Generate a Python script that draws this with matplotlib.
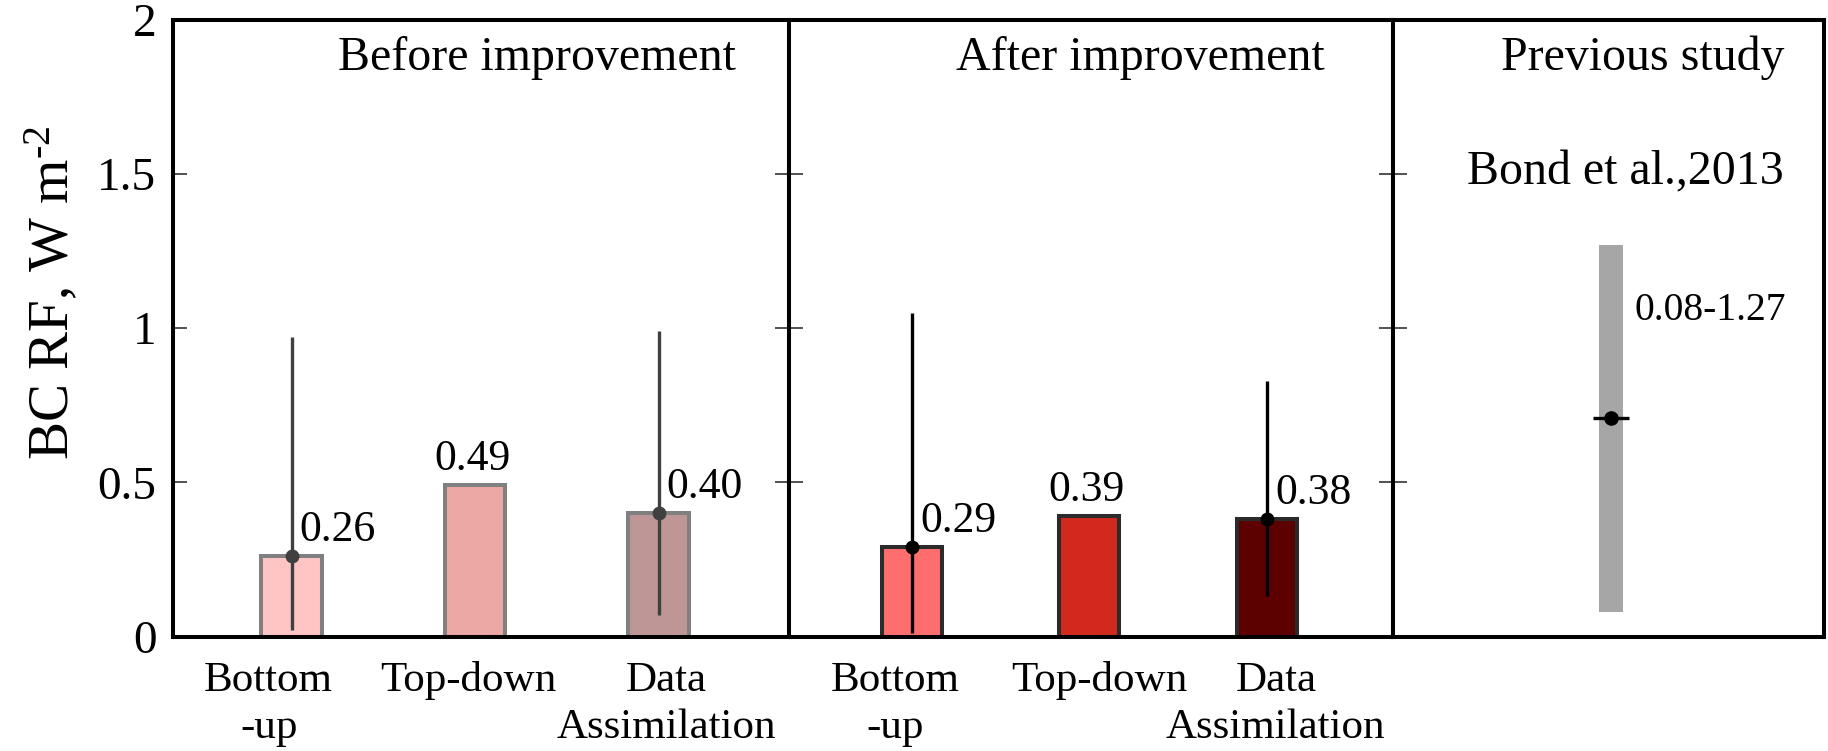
import matplotlib
matplotlib.use('Agg')
import matplotlib.pyplot as plt
import matplotlib.transforms as mtransforms

plt.rcParams['font.family'] = ['Liberation Serif', 'DejaVu Serif']
plt.rcParams['mathtext.fontset'] = 'custom'
plt.rcParams['mathtext.rm'] = 'Liberation Serif'
plt.rcParams['mathtext.it'] = 'Liberation Serif:italic'

# ---------------- data ----------------
categories = ['Bottom\n-up', 'Top-down', 'Data\nAssimilation']
panel_titles = ['Before improvement', 'After improvement', 'Previous study']

before_values = [0.26, 0.49, 0.40]
before_labels = ['0.26', '0.49', '0.40']
before_err_low = [0.02, None, 0.07]
before_err_high = [0.97, None, 0.99]
before_colors = ['#FFC4C4', '#ECA8A4', '#BE9696']

after_values = [0.29, 0.39, 0.38]
after_labels = ['0.29', '0.39', '0.38']
after_err_low = [0.01, None, 0.13]
after_err_high = [1.05, None, 0.83]
after_colors = ['#FF6E6E', '#D2291F', '#5C0000']

prev_study = 'Bond et al.,2013'
prev_low = 0.08
prev_high = 1.27
prev_mid = 0.71
prev_label = '0.08-1.27'

yticks = [0, 0.5, 1, 1.5, 2]
ytick_labels = ['0', '0.5', '1', '1.5', '2']

# ---------------- figure ----------------
W, H = 1828, 751
fig = plt.figure(figsize=(W / 100, H / 100), dpi=100)
bottom = (H - 636.5) / H
height = 616.5 / H
ax1 = fig.add_axes([173 / W, bottom, 616 / W, height])
ax2 = fig.add_axes([789 / W, bottom, 604 / W, height])
ax3 = fig.add_axes([1393 / W, bottom, 431 / W, height])

spine_lw = 2.9


def style_axes(ax, left_labels, right_ticks):
    ax.set_ylim(0, 2)
    ax.set_yticks(yticks)
    ax.set_yticklabels(ytick_labels)
    for sp in ax.spines.values():
        sp.set_linewidth(spine_lw)
        sp.set_color('black')
    ax.tick_params(axis='y', direction='in', length=10, width=1.1,
                   left=True, right=right_ticks, labelleft=left_labels,
                   labelsize=34, pad=12, color='#222222')
    ax.set_xticks([])


def draw_panel(ax, values, labels, lows, highs, colors, edge, err_color,
               xlim, width, label_shift):
    xs = list(range(len(values)))
    ax.bar(xs, values, width=width, color=colors, edgecolor=edge,
           linewidth=2.9, zorder=2)
    for x, v, lab, lo, hi in zip(xs, values, labels, lows, highs):
        if lo is not None:
            ax.errorbar([x], [v], yerr=[[v - lo], [hi - v]], fmt='o',
                        color=err_color, ecolor=err_color, elinewidth=2.4,
                        markersize=9, capsize=0, zorder=3)
            ax.annotate(lab, (x, v), xytext=(6, 11), textcoords='offset points',
                        ha='left', va='baseline', fontsize=31.5)
        else:
            ax.annotate(lab, (x, v), xytext=(-2, 11), textcoords='offset points',
                        ha='center', va='baseline', fontsize=31.5)
    ax.set_xlim(*xlim)
    # category labels below the axis, one text per line
    trans = mtransforms.blended_transform_factory(ax.transData, ax.transAxes)
    for x, s, cat in zip(xs, label_shift, categories):
        for i, line in enumerate(cat.split('\n')):
            ax.annotate(line, (x + s, 0), xycoords=trans,
                        xytext=(0, -39 - 34 * i), textcoords='offset points',
                        ha='center', va='baseline', fontsize=31,
                        annotation_clip=False)


draw_panel(ax1, before_values, before_labels, before_err_low, before_err_high,
           before_colors, '#808080', '#404040', (-0.646, 2.711), 0.33,
           (-0.125, -0.038, 0.044))
draw_panel(ax2, after_values, after_labels, after_err_low, after_err_high,
           after_colors, '#2B2B2B', 'black', (-0.692, 2.711), 0.34,
           (-0.096, 0.056, 0.051))

style_axes(ax1, True, True)
style_axes(ax2, False, True)
style_axes(ax3, False, False)

# previous study panel
ax3.set_xlim(-0.5, 0.5)
x0 = 0.006
ax3.bar([x0], [prev_high - prev_low], bottom=prev_low, width=0.056,
        color='#A6A6A6', linewidth=0, zorder=2)
ax3.errorbar([x0], [prev_mid], xerr=0.042, fmt='o', color='black',
             ecolor='black', elinewidth=2.4, markersize=9.5, capsize=0, zorder=3)
ax3.annotate(prev_label, (x0, prev_high), xytext=(17, -54),
             textcoords='offset points', ha='left', va='baseline', fontsize=28.5)
ax3.text(0.538, 0.7335, prev_study, transform=ax3.transAxes,
         ha='center', va='baseline', fontsize=34.5)

for ax, t, cx in zip([ax1, ax2, ax3], panel_titles, [0.591, 0.582, 0.58]):
    ax.text(cx, 0.919, t, transform=ax.transAxes, ha='center',
            va='baseline', fontsize=34.5)

fig.text(81 / W, 1 - 292.5 / H, 'BC RF, W m$^{\\mathrm{\u20102}}$', rotation=90,
         ha='right', va='center', fontsize=41)

fig.savefig('out.png', dpi=100)
